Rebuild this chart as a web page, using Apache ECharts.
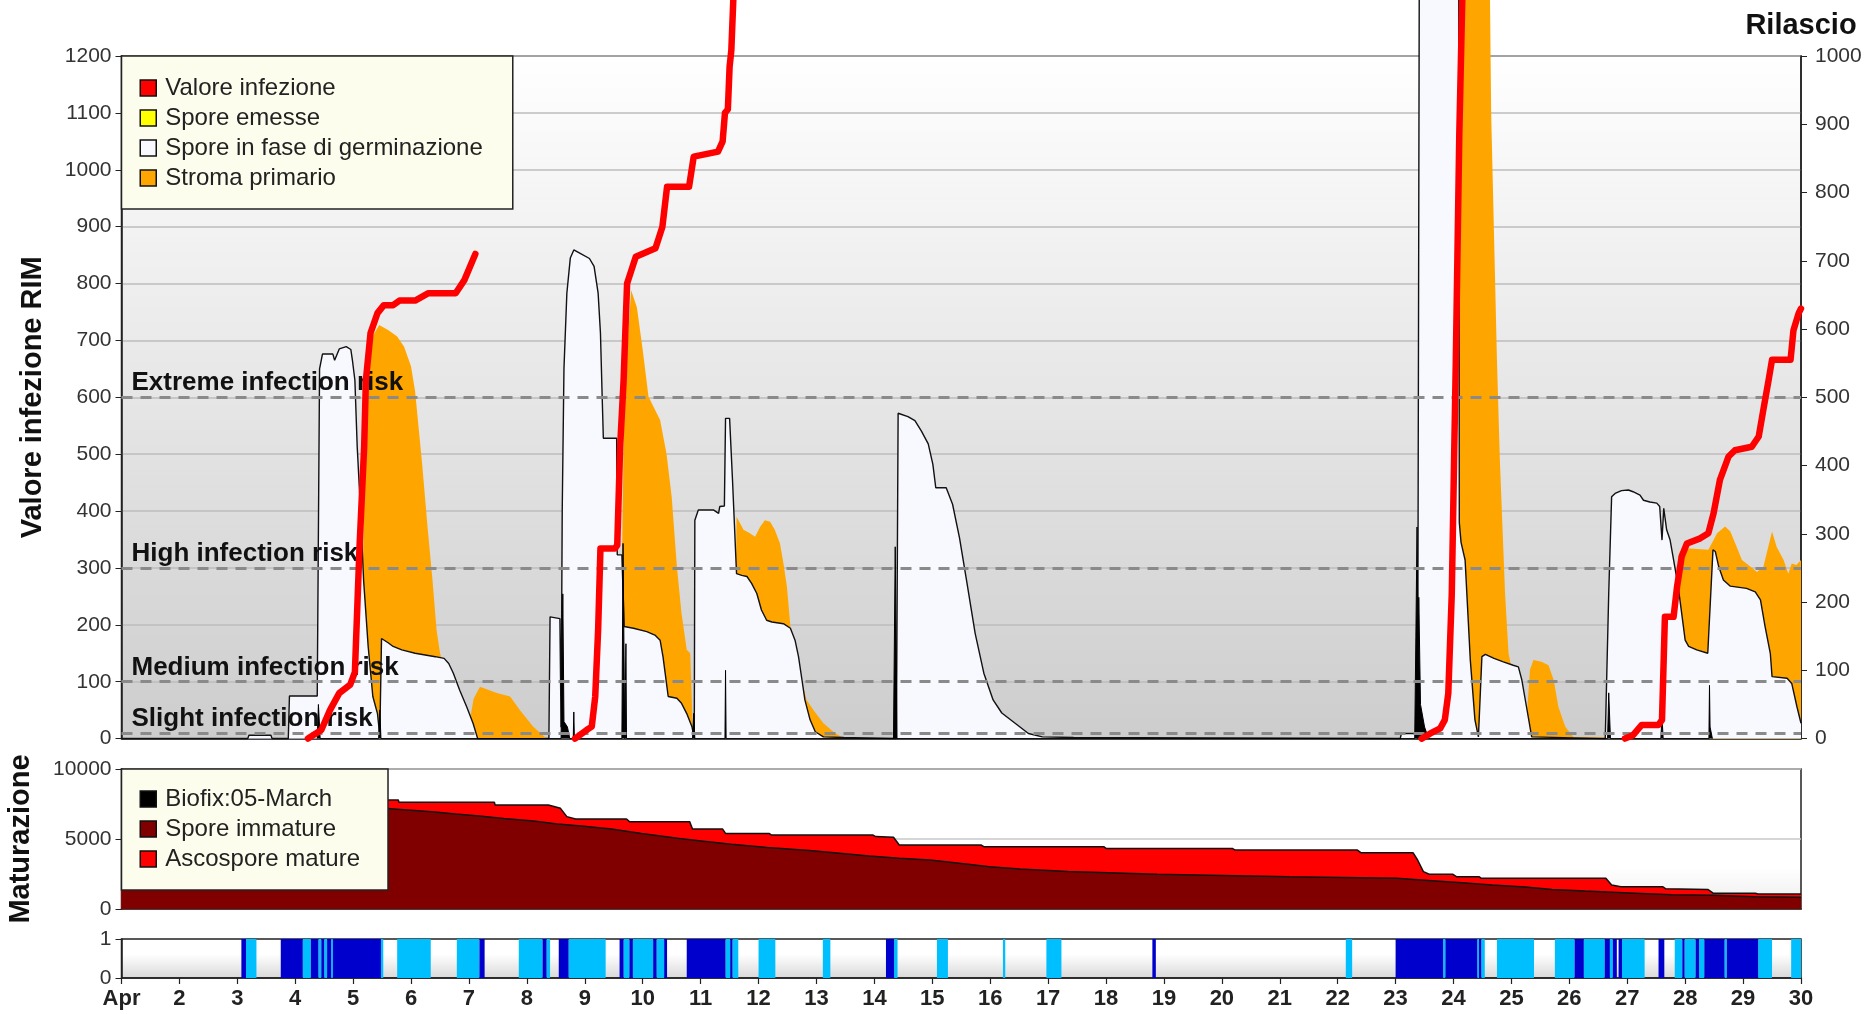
<!DOCTYPE html>
<html>
<head>
<meta charset="utf-8">
<title>Valore infezione RIM</title>
<script src="https://cdn.jsdelivr.net/npm/echarts@6/dist/echarts.min.js"></script>
<style>
  html, body { margin: 0; padding: 0; background: #fff; }
  #chart { width: 1868px; height: 1014px; }
</style>
</head>
<body>
<div id="chart"></div>
<script>
// x values are days of April (1 = Apr 1, 00:00)

// Valore infezione (red), one array per infection period
const valoreSeg1 = [[4.22,0],[4.45,15],[4.6,50],[4.76,80],[4.95,95],[5.03,117],[5.11,337],[5.19,513],[5.22,630],[5.3,713],[5.42,748],[5.53,762],[5.69,762],[5.8,770],[6.07,770],[6.3,783],[6.77,783],[6.92,806],[7.11,852]];
const valoreSeg2 = [[8.83,0],[9.03,15],[9.12,21],[9.18,74],[9.23,191],[9.27,334],[9.52,334],[9.56,340],[9.61,513],[9.67,630],[9.73,800],[9.88,847],[10.22,862],[10.34,900],[10.42,970],[10.8,970],[10.88,1023],[11.3,1032],[11.38,1050],[11.42,1100],[11.47,1106],[11.5,1181],[11.53,1210],[11.58,1340]];
const valoreSeg3 = [[23.45,0],[23.6,9],[23.77,18],[23.85,33],[23.91,80],[23.97,255],[24.01,490],[24.04,666],[24.1,1064],[24.16,1340]];
const valoreSeg4 = [[26.96,0],[27.1,6],[27.25,24],[27.54,24],[27.6,33],[27.65,214],[27.8,214],[27.86,267],[27.94,320],[28.03,343],[28.26,352],[28.4,361],[28.49,396],[28.6,455],[28.75,496],[28.86,507],[29.15,513],[29.27,531],[29.35,578],[29.44,630],[29.5,666],[29.82,666],[29.87,718],[29.96,748],[30,756]];

// Spore in fase di germinazione (white area)
const germinazione = [[1,0],[3.18,0],[3.2,6],[3.58,6],[3.6,0],[3.88,0],[3.9,75],[4.38,75],[4.42,650],[4.47,676],[4.65,676],[4.68,665],[4.76,685],[4.88,689],[4.96,684],[4.99,663],[5.03,630],[5.07,513],[5.13,396],[5.18,279],[5.26,161],[5.34,74],[5.42,44],[5.46,5],[5.49,176],[5.61,168],[5.69,162],[5.84,156],[6.07,150],[6.42,144],[6.57,141],[6.65,132],[6.73,115],[6.84,85],[6.96,56],[7.07,27],[7.15,0],
  [8.38,0],[8.4,214],[8.57,211],[8.59,20],[8.61,400],[8.64,650],[8.69,783],[8.75,845],[8.81,859],[8.92,853],[9.08,844],[9.16,830],[9.23,783],[9.27,713],[9.3,600],[9.32,528],[9.55,528],[9.56,323],[9.64,323],[9.68,197],[9.84,194],[10.07,188],[10.21,182],[10.3,173],[10.35,144],[10.44,74],[10.59,71],[10.67,62],[10.76,44],[10.85,21],[10.89,0],[10.9,384],[10.96,402],[11.22,402],[11.31,396],[11.33,408],[11.41,409],[11.43,563],[11.5,563],[11.55,455],[11.62,290],[11.71,287],[11.8,285],[11.88,273],[11.97,255],[12.05,226],[12.14,208],[12.23,205],[12.43,202],[12.55,194],[12.63,173],[12.69,144],[12.75,103],[12.8,68],[12.89,33],[12.98,12],[13.12,3],[13.47,2],[13.5,0],
  [14.38,0],[14.41,572],[14.58,566],[14.7,559],[14.81,541],[14.93,518],[15.01,482],[15.06,441],[15.24,441],[15.35,412],[15.47,353],[15.59,279],[15.74,185],[15.89,115],[16.05,68],[16.2,45],[16.43,27],[16.66,9],[16.9,3],[17.44,2],[17.46,0],
  [23.08,0],[23.1,9],[23.34,9],[23.38,0],[23.41,1400],[24.09,1400],[24.1,380],[24.13,345],[24.2,314],[24.29,138],[24.37,33],[24.43,3],[24.45,0],[24.46,0],[24.49,144],[24.55,148],[24.7,141],[24.86,135],[25.03,129],[25.12,126],[25.18,103],[25.26,56],[25.35,3],[25.37,0],
  [26.62,0],[26.68,255],[26.73,425],[26.79,431],[26.9,436],[27.02,437],[27.1,434],[27.22,428],[27.28,419],[27.39,416],[27.51,414],[27.56,408],[27.6,349],[27.63,405],[27.68,367],[27.74,349],[27.8,314],[27.88,267],[27.94,220],[28.0,173],[28.06,162],[28.2,156],[28.39,150],[28.42,150],[28.48,332],[28.52,329],[28.58,302],[28.66,279],[28.78,268],[29.06,264],[29.21,258],[29.3,244],[29.38,197],[29.47,150],[29.5,109],[29.76,106],[29.84,97],[29.93,56],[30,27]];

// Stroma primario (orange area)
const stroma = [[1,0],[5.12,0],[5.2,500],[5.25,650],[5.35,710],[5.45,727],[5.61,718],[5.76,707],[5.88,689],[6.0,654],[6.07,610],[6.19,484],[6.29,366],[6.37,279],[6.44,191],[6.5,150],[6.7,80],[6.85,20],[6.9,0],
  [6.96,0],[7.08,70],[7.19,91],[7.48,80],[7.71,74],[7.88,50],[8.11,21],[8.31,3],[8.35,0],
  [9.6,0],[9.68,600],[9.8,788],[9.9,758],[10.0,683],[10.1,601],[10.3,560],[10.41,501],[10.5,425],[10.59,302],[10.67,220],[10.76,156],[10.82,150],[10.87,0],
  [11.58,0],[11.62,390],[11.74,367],[11.85,361],[11.94,355],[12.03,373],[12.11,384],[12.2,381],[12.28,367],[12.37,343],[12.43,308],[12.49,267],[12.55,197],[12.7,120],[12.83,68],[12.95,50],[13.12,27],[13.29,12],[13.47,0],
  [24.05,0],[24.1,1400],[24.62,1400],[24.65,1100],[24.75,666],[24.8,490],[24.89,255],[24.95,150],[25.05,100],[25.15,0],
  [25.24,0],[25.32,121],[25.38,138],[25.52,135],[25.64,129],[25.73,103],[25.81,56],[25.93,21],[26.07,3],[26.1,0],
  [27.8,0],[27.88,320],[27.91,329],[28.08,334],[28.4,332],[28.47,345],[28.55,361],[28.69,373],[28.78,364],[28.89,337],[28.98,314],[29.09,305],[29.24,293],[29.35,302],[29.5,364],[29.58,337],[29.7,314],[29.78,290],[29.84,308],[29.92,305],[30,314]];

// Rilascio spikes (right axis units)
const rilascio = [[4.38,0],[4.4,50],[4.43,0],[5.44,0],[5.46,42],[5.48,0],[8.59,0],[8.62,212],[8.64,25],[8.7,17],[8.74,0],[8.8,0],[8.81,39],[8.82,0],
  [9.64,0],[9.66,286],[9.69,0],[9.7,0],[9.71,139],[9.72,0],[10.86,0],[10.88,37],[10.9,0],[11.42,0],[11.43,100],[11.44,0],[14.33,0],[14.36,281],[14.39,0],
  [23.33,0],[23.35,149],[23.37,310],[23.39,100],[23.4,207],[23.43,50],[23.5,17],[23.57,0],[26.66,0],[26.68,67],[26.71,0],[27.58,0],[27.6,32],[27.62,0],[28.41,0],[28.42,78],[28.43,17],[28.47,0]];

const riskLevels = [600, 300, 100, 10];
const riskNames = ['Extreme infection risk', 'High infection risk', 'Medium infection risk', 'Slight infection risk'];

// Maturazione panel
const sporeTotali = [[1,7800],[5.53,7786],[5.78,7786],[5.79,7620],[7.44,7620],[7.45,7430],[8.37,7430],[8.58,7190],[8.69,6600],[8.84,6430],[9.72,6430],[9.77,6240],[10.81,6240],[10.86,5710],[11.38,5710],[11.43,5400],[12.18,5400],[12.22,5290],[13.97,5290],[14.02,5170],[14.33,5120],[14.43,4570],[15.84,4570],[15.89,4450],[17.96,4450],[18.0,4330],[20.18,4330],[20.23,4210],[22.34,4210],[22.4,4020],[23.3,4020],[23.38,3500],[23.48,2670],[23.58,2480],[23.99,2480],[24.05,2310],[24.44,2310],[24.48,2190],[26.63,2190],[26.73,1710],[26.89,1590],[27.61,1590],[27.66,1450],[28.39,1400],[28.49,1120],[29.21,1120],[29.26,1070],[30,1070]];
const sporeImmature = [[1,7400],[5.53,7190],[5.94,7070],[6.36,6950],[6.77,6790],[7.18,6640],[7.6,6470],[8.11,6290],[8.53,6070],[8.94,5930],[9.46,5710],[9.98,5400],[10.6,5050],[11.01,4860],[11.53,4620],[12.15,4400],[12.88,4170],[13.4,3980],[13.91,3790],[14.43,3620],[14.96,3500],[15.58,3210],[15.99,3020],[16.51,2860],[17.34,2670],[18.88,2480],[21.16,2310],[23.02,2190],[23.63,2020],[24.15,1880],[24.67,1710],[25.24,1570],[25.7,1400],[26.27,1280],[26.94,1160],[27.77,1020],[28.49,976],[29.21,880],[30,833]];

// bottom strip: [start, end], dark and light bands
const bandsDark = [[3.07,3.15],[3.75,4.13],[4.27,4.4],[4.45,4.5],[4.55,4.62],[4.65,5.48],[7.18,7.27],[8.27,8.34],[8.55,8.72],[9.6,9.67],[9.77,9.83],[10.18,10.24],[10.37,10.42],[10.76,11.43],[11.51,11.55],[14.2,14.34],[18.8,18.86],[23.0,23.82],[23.86,24.41],[24.44,24.48],[26.09,26.25],[26.61,26.7],[26.75,26.82],[26.85,26.91],[27.54,27.64],[27.95,27.99],[28.18,28.24],[28.33,28.68],[28.72,29.26]];
const bandsLight = [[3.15,3.33],[4.13,4.27],[4.4,4.45],[4.5,4.55],[4.62,4.65],[5.48,5.52],[5.76,6.34],[6.79,7.18],[7.86,8.27],[8.34,8.4],[8.72,9.36],[9.67,9.77],[9.83,10.18],[10.24,10.37],[11.43,11.51],[11.55,11.65],[12.0,12.29],[13.11,13.24],[14.34,14.4],[15.08,15.27],[16.22,16.26],[16.97,17.23],[22.14,22.25],[23.82,23.86],[24.41,24.44],[24.48,24.54],[24.75,25.39],[25.75,26.09],[26.25,26.61],[26.7,26.75],[26.91,27.3],[27.82,27.95],[27.99,28.18],[28.24,28.33],[28.68,28.72],[29.26,29.5],[29.83,30]];

const FONT = '"Liberation Sans", Arial, sans-serif';
const gridLeft = 121.5, gridWidth = 1679.5;

const chart = echarts.init(document.getElementById('chart'));

function vgrad(stops) {
  return new echarts.graphic.LinearGradient(0, 0, 0, 1, stops.map(([o, c]) => ({ offset: o, color: c })));
}

const tickLabel = { color: '#333', fontSize: 21, fontFamily: FONT, formatter: (v) => String(v) };
const blackLine = { lineStyle: { color: '#222', width: 1.5 } };

function xAxisFor(gridIndex, withLabels) {
  return {
    type: 'value', gridIndex, min: 1, max: 30, interval: 1,
    axisLine: blackLine,
    axisTick: { show: withLabels, length: 6, lineStyle: { color: '#222', width: 1.2 } },
    axisLabel: withLabels
      ? { color: '#222', fontSize: 22, fontWeight: 'bold', fontFamily: FONT, margin: 10, formatter: (v) => (v === 1 ? 'Apr' : String(v)) }
      : { show: false },
    splitLine: { show: false },
  };
}

function bandSeries(bands, color) {
  return {
    type: 'custom', xAxisIndex: 2, yAxisIndex: 3, silent: true, z: 2,
    data: bands,
    renderItem: (params, api) => {
      const a = api.coord([api.value(0), 1]);
      const b = api.coord([api.value(1), 0]);
      return { type: 'rect', shape: { x: a[0], y: a[1], width: Math.max(b[0] - a[0], 1), height: b[1] - a[1] }, style: { fill: color } };
    },
  };
}

function valoreSeries(data) {
  return {
    name: 'Valore infezione', type: 'line', xAxisIndex: 0, yAxisIndex: 0, data,
    symbol: 'none', clip: false, z: 8,
    itemStyle: { color: '#ff0000' },
    lineStyle: { color: '#ff0000', width: 6.5, join: 'round', cap: 'round' },
  };
}

const legendBase = {
  orient: 'vertical', icon: 'rect', itemWidth: 16, itemHeight: 16, itemGap: 6,
  backgroundColor: '#fdfdee', borderColor: '#222', borderWidth: 1.5, borderRadius: 0,
  itemStyle: { borderColor: '#111', borderWidth: 1.5 },
  textStyle: { color: '#222', fontSize: 24, lineHeight: 24, fontFamily: FONT, padding: [0, 0, 0, 4] },
  selectedMode: false, z: 20,
};

const option = {
  animation: false,
  backgroundColor: '#ffffff',
  grid: [
    { left: gridLeft, width: gridWidth, top: 56, height: 682.6, show: true, outerBoundsMode: 'none',
      backgroundColor: vgrad([[0, '#ffffff'], [1, '#cdcdcd']]), borderColor: '#222', borderWidth: 1.5 },
    { left: gridLeft, width: gridWidth, top: 769, height: 140, show: true, outerBoundsMode: 'none',
      backgroundColor: vgrad([[0, '#ffffff'], [0.7, '#ffffff'], [1, '#ececec']]), borderColor: '#222', borderWidth: 1.5 },
    { left: gridLeft, width: gridWidth, top: 939, height: 39, show: true, outerBoundsMode: 'none',
      backgroundColor: vgrad([[0, '#ffffff'], [0.4, '#ffffff'], [1, '#d8d8d8']]), borderColor: '#222', borderWidth: 1.5 },
  ],
  xAxis: [xAxisFor(0, false), xAxisFor(1, false), xAxisFor(2, true)],
  yAxis: [
    { type: 'value', gridIndex: 0, min: 0, max: 1200, interval: 100,
      name: 'Valore infezione RIM', nameLocation: 'middle', nameGap: 74,
      nameTextStyle: { color: '#111', fontSize: 29, fontWeight: 'bold', fontFamily: FONT },
      axisLine: { show: true, ...blackLine }, axisTick: { show: true, length: 6, lineStyle: { color: '#222' } },
      axisLabel: { ...tickLabel, margin: 10 },
      splitLine: { show: true, lineStyle: { color: '#bdbdbd', width: 1.5 } } },
    { type: 'value', gridIndex: 0, position: 'right', min: 0, max: 1000, interval: 100,
      name: 'Rilascio', nameLocation: 'end', nameGap: 30,
      nameTextStyle: { color: '#111', fontSize: 29, fontWeight: 'bold', fontFamily: FONT, align: 'center', verticalAlign: 'middle' },
      axisLine: { show: true, ...blackLine }, axisTick: { show: true, length: 6, lineStyle: { color: '#222' } },
      axisLabel: { ...tickLabel, margin: 14 },
      splitLine: { show: false } },
    { type: 'value', gridIndex: 1, min: 0, max: 10000, interval: 5000,
      name: 'Maturazione', nameLocation: 'middle', nameGap: 86,
      nameTextStyle: { color: '#111', fontSize: 29, fontWeight: 'bold', fontFamily: FONT },
      axisLine: { show: true, ...blackLine }, axisTick: { show: true, length: 6, lineStyle: { color: '#222' } },
      axisLabel: { ...tickLabel, margin: 10 },
      splitLine: { show: true, lineStyle: { color: '#c8c8c8', width: 1.5 } } },
    { type: 'value', gridIndex: 2, min: 0, max: 1, interval: 1,
      axisLine: { show: true, ...blackLine }, axisTick: { show: true, length: 6, lineStyle: { color: '#222' } },
      axisLabel: { ...tickLabel, margin: 10 },
      splitLine: { show: false } },
  ],
  legend: [
    { ...legendBase, left: gridLeft, top: 56, padding: [20, 30, 19, 18],
      data: ['Valore infezione', 'Spore emesse', 'Spore in fase di germinazione', 'Stroma primario'] },
    { ...legendBase, left: gridLeft, top: 769, padding: [18, 28, 19, 18],
      data: ['Biofix:05-March', 'Spore immature', 'Ascospore mature'] },
  ],
  series: [
    { name: 'Stroma primario', type: 'line', xAxisIndex: 0, yAxisIndex: 0, data: stroma,
      symbol: 'none', clip: false, z: 2,
      itemStyle: { color: '#ffa500' }, lineStyle: { width: 0 },
      areaStyle: { color: '#ffa500', opacity: 1 } },
    { name: 'Spore in fase di germinazione', type: 'line', xAxisIndex: 0, yAxisIndex: 0, data: germinazione,
      symbol: 'none', clip: false, z: 3,
      itemStyle: { color: '#f8f8ff' }, lineStyle: { color: '#111', width: 1.4 },
      areaStyle: { color: '#f8f8ff', opacity: 1 } },
    { name: 'Rilascio', type: 'line', xAxisIndex: 0, yAxisIndex: 1, data: rilascio,
      symbol: 'none', z: 4,
      itemStyle: { color: '#000' }, lineStyle: { color: '#000', width: 1 },
      areaStyle: { color: '#000', opacity: 1 } },
    { name: 'Spore emesse', type: 'line', xAxisIndex: 0, yAxisIndex: 0, data: [],
      symbol: 'none', itemStyle: { color: '#ffff00' }, lineStyle: { color: '#ffff00' } },
    { name: 'rischio', type: 'line', xAxisIndex: 0, yAxisIndex: 0, data: [[1, 0]],
      symbol: 'none', lineStyle: { width: 0 }, silent: true, z: 6,
      markLine: {
        symbol: ['none', 'none'], silent: true, animation: false,
        lineStyle: { color: '#8a8a8a', width: 3, type: [11, 8] },
        label: { show: true, position: 'insideStartTop', distance: [10, 1], formatter: '{b}',
          color: '#111', fontSize: 26, fontWeight: 'bold', fontFamily: FONT },
        data: riskLevels.map((v, i) => ({ yAxis: v, name: riskNames[i] })),
      } },
    valoreSeries(valoreSeg1),
    valoreSeries(valoreSeg2),
    valoreSeries(valoreSeg3),
    valoreSeries(valoreSeg4),

    { name: 'Ascospore mature', type: 'line', xAxisIndex: 1, yAxisIndex: 2, data: sporeTotali,
      symbol: 'none', z: 2,
      itemStyle: { color: '#ff0000' }, lineStyle: { color: '#111', width: 1.5 },
      areaStyle: { color: '#ff0000', opacity: 1 } },
    { name: 'Spore immature', type: 'line', xAxisIndex: 1, yAxisIndex: 2, data: sporeImmature,
      symbol: 'none', z: 3,
      itemStyle: { color: '#800000' }, lineStyle: { color: '#111', width: 1.5 },
      areaStyle: { color: '#800000', opacity: 1 } },
    { name: 'Biofix:05-March', type: 'line', xAxisIndex: 1, yAxisIndex: 2, data: [],
      symbol: 'none', itemStyle: { color: '#000' } },

    bandSeries(bandsLight, '#00bfff'),
    bandSeries(bandsDark, '#0000cd'),
  ],
};

chart.setOption(option);
</script>
</body>
</html>
